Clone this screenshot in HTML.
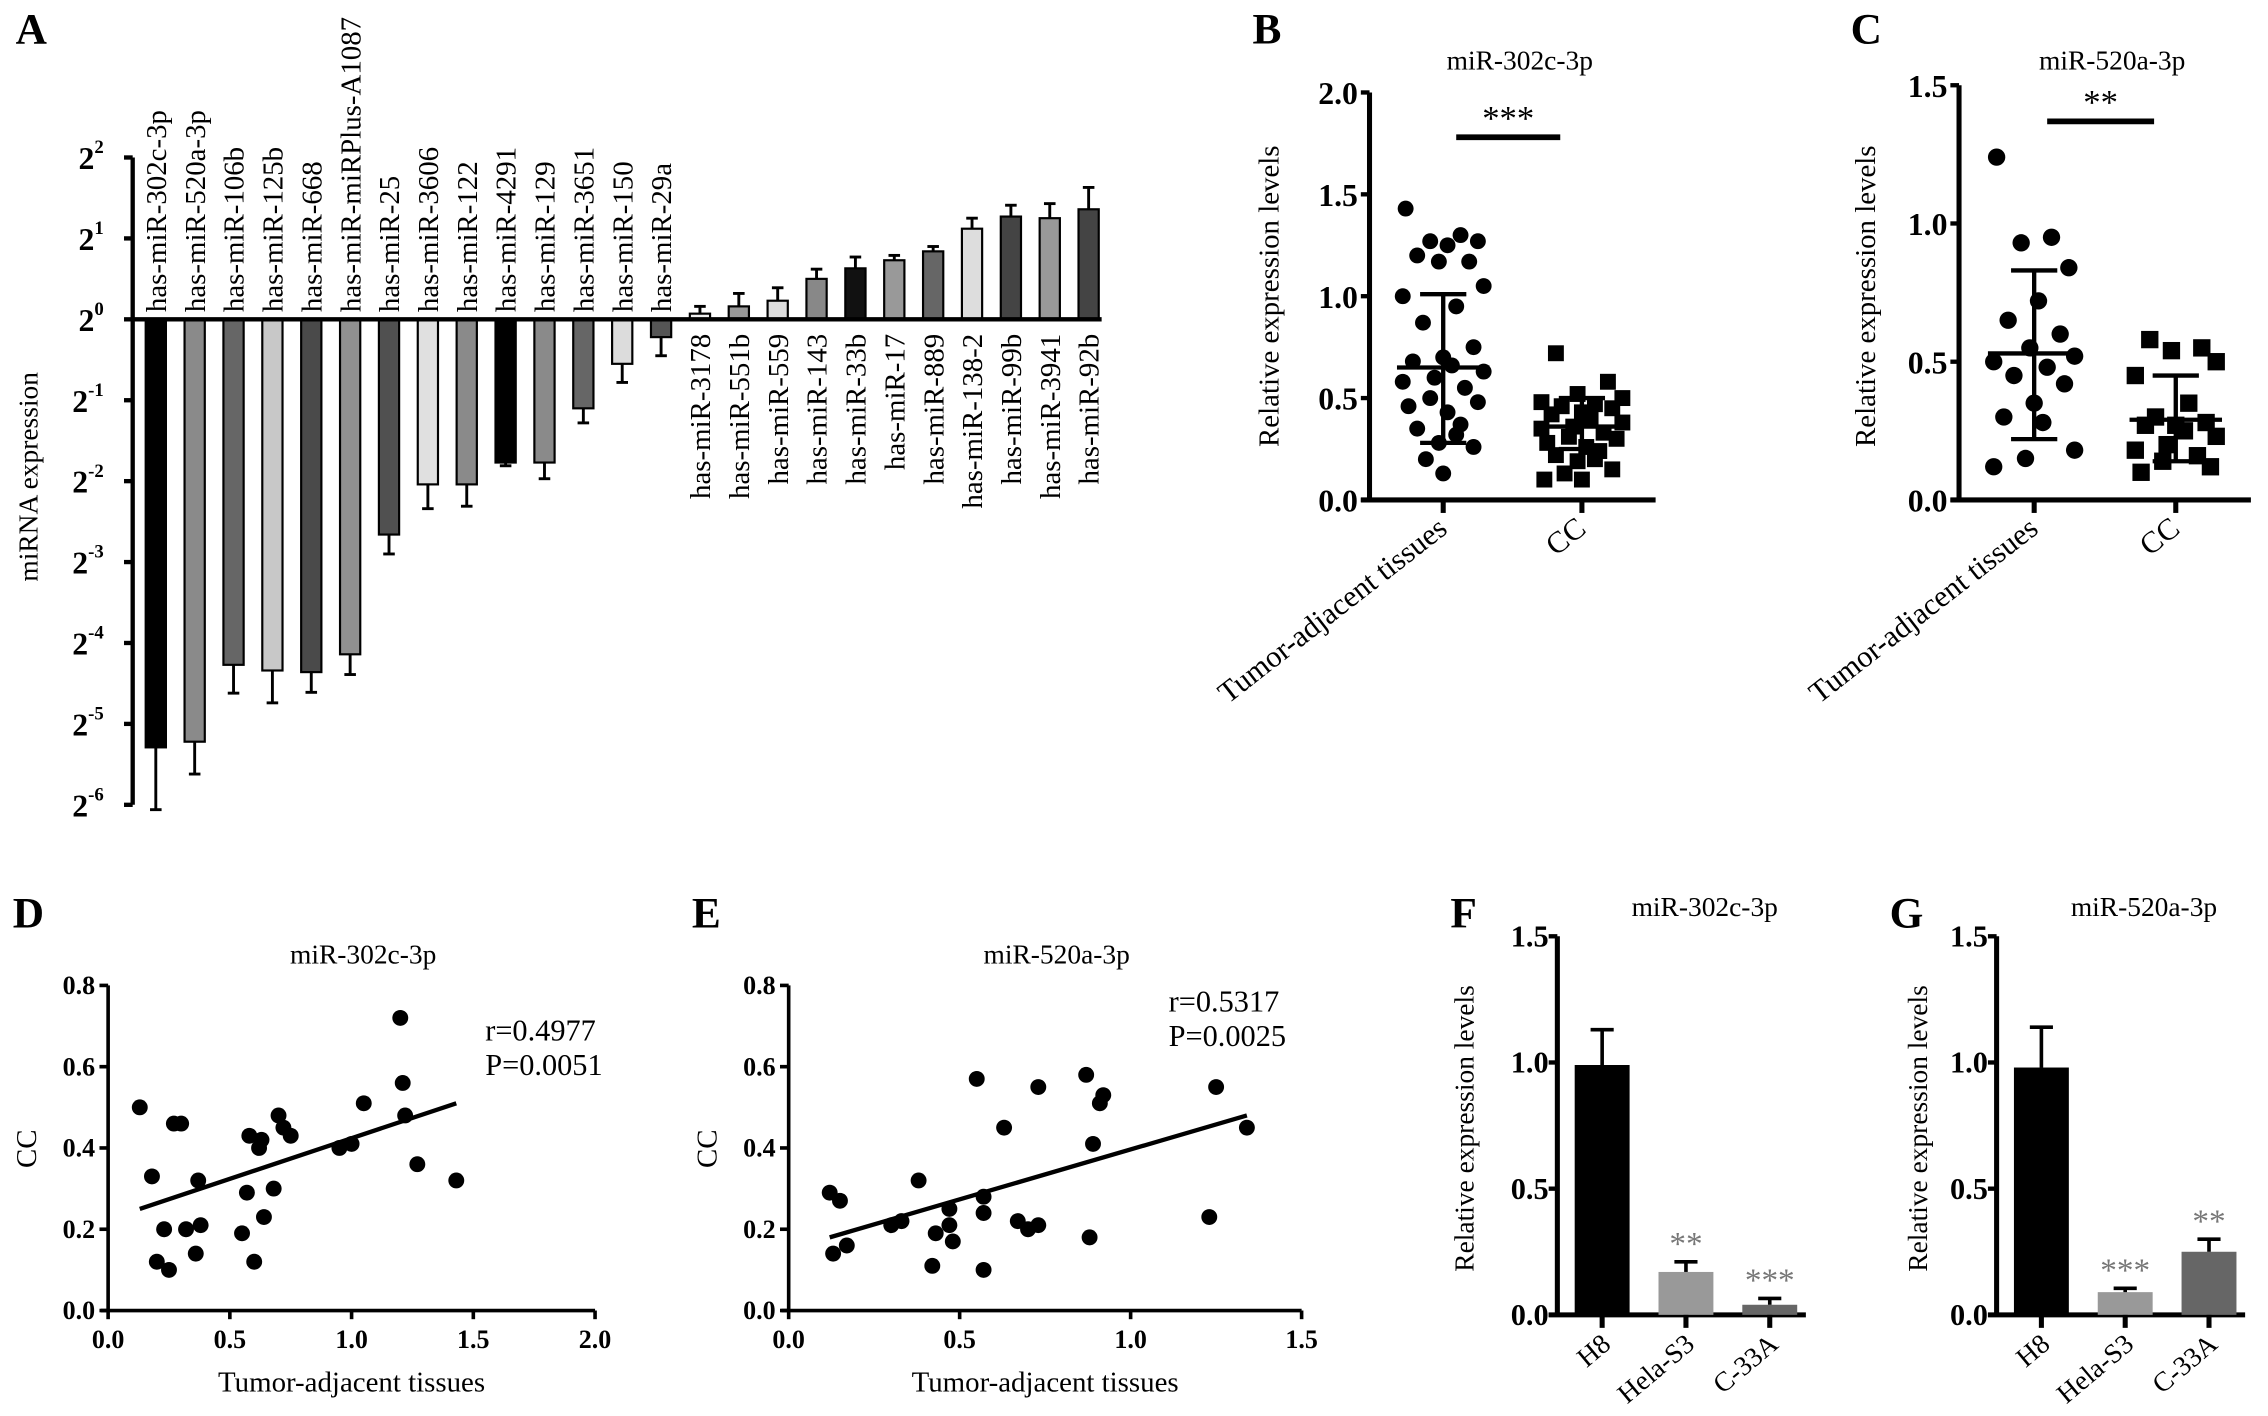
<!DOCTYPE html>
<html><head><meta charset="utf-8"><style>
html,body{margin:0;padding:0;background:#fff;}
svg{display:block;font-family:"Liberation Serif",serif;}
</style></head><body>
<svg id="fig" width="2268" height="1416" viewBox="0 0 1568 980" xmlns="http://www.w3.org/2000/svg"></svg>
<script>
// ---------- Panel A data ----------
const aNames=["has-miR-302c-3p","has-miR-520a-3p","has-miR-106b","has-miR-125b","has-miR-668","has-miR-miRPlus-A1087","has-miR-25","has-miR-3606","has-miR-122","has-miR-4291","has-miR-129","has-miR-3651","has-miR-150","has-miR-29a","has-miR-3178","has-miR-551b","has-miR-559","has-miR-143","has-miR-33b","has-miR-17","has-miR-889","has-miR-138-2","has-miR-99b","has-miR-3941","has-miR-92b"];
const aLog2=[-5.29,-5.22,-4.27,-4.34,-4.36,-4.14,-2.66,-2.04,-2.04,-1.77,-1.77,-1.1,-0.55,-0.22,0.07,0.16,0.23,0.5,0.63,0.73,0.84,1.12,1.27,1.25,1.36];
const aErr=[0.77,0.4,0.35,0.4,0.25,0.25,0.24,0.3,0.27,0.04,0.2,0.18,0.23,0.23,0.09,0.16,0.16,0.12,0.14,0.06,0.06,0.13,0.14,0.18,0.27];
const aTicks=[2,1,0,-1,-2,-3,-4,-5,-6];
// ---------- Panel B/C data ----------
const bTumor=[1.43,1.3,1.27,1.27,1.25,1.2,1.17,1.17,1.05,1.0,0.95,0.87,0.75,0.7,0.68,0.66,0.63,0.6,0.58,0.55,0.5,0.48,0.46,0.43,0.37,0.35,0.32,0.28,0.26,0.2,0.13];
const bCC=[0.72,0.58,0.52,0.5,0.48,0.47,0.46,0.45,0.43,0.42,0.4,0.38,0.36,0.35,0.33,0.31,0.3,0.28,0.26,0.24,0.22,0.2,0.19,0.15,0.13,0.1,0.1];
const bStats=[0.65,0.28,1.01,0.36,0.25,0.5];
const cTumor=[1.24,0.95,0.93,0.84,0.72,0.65,0.6,0.55,0.52,0.5,0.48,0.45,0.42,0.35,0.3,0.28,0.18,0.15,0.12];
const cCC=[0.58,0.55,0.54,0.5,0.45,0.35,0.3,0.28,0.27,0.27,0.25,0.23,0.2,0.18,0.16,0.14,0.12,0.1];
const cStats=[0.53,0.22,0.83,0.29,0.14,0.45];
// ---------- Panel D/E data ----------
const dX=[0.13,0.18,0.2,0.23,0.25,0.27,0.3,0.32,0.36,0.37,0.38,0.55,0.57,0.58,0.6,0.62,0.63,0.64,0.68,0.7,0.72,0.75,0.95,1.0,1.05,1.2,1.21,1.22,1.27,1.43];
const dY=[0.5,0.33,0.12,0.2,0.1,0.46,0.46,0.2,0.14,0.32,0.21,0.19,0.29,0.43,0.12,0.4,0.42,0.23,0.3,0.48,0.45,0.43,0.4,0.41,0.51,0.72,0.56,0.48,0.36,0.32];
const dFit=[0.13,0.25,1.43,0.51];
const eX=[0.12,0.13,0.15,0.17,0.3,0.33,0.38,0.42,0.43,0.47,0.47,0.48,0.55,0.57,0.57,0.57,0.63,0.67,0.7,0.73,0.73,0.87,0.88,0.89,0.91,0.92,1.23,1.25,1.34];
const eY=[0.29,0.14,0.27,0.16,0.21,0.22,0.32,0.11,0.19,0.25,0.21,0.17,0.57,0.28,0.24,0.1,0.45,0.22,0.2,0.55,0.21,0.58,0.18,0.41,0.51,0.53,0.23,0.55,0.45];
const eFit=[0.12,0.18,1.34,0.48];
// ---------- Panel F/G data ----------
const cellLines=["H8","Hela-S3","C-33A"];
const fVals=[0.99,0.17,0.04];
const fErr=[0.14,0.04,0.025];
const fStars=["","**","***"];
const gVals=[0.98,0.09,0.25];
const gErr=[0.16,0.015,0.05];
const gStars=["","***","**"];
const barTicks=[0,0.5,1.0,1.5];

const NS="http://www.w3.org/2000/svg";
const svg=document.getElementById('fig');
function el(tag,attrs,parent,text){const e=document.createElementNS(NS,tag);for(const k in attrs)e.setAttribute(k,attrs[k]);if(text!==undefined)e.textContent=text;(parent||svg).appendChild(e);return e;}
function grp(name){const g=el('g',{});


return g;}
function line(p,x1,y1,x2,y2,w){return el('line',{x1,y1,x2,y2,stroke:'#000','stroke-width':w||2},p);}
function txt(p,x,y,s,size,opts){const o=Object.assign({x,y,'font-size':size,fill:'#000'},opts||{});return el('text',o,p,s);}

// panel letters
[["A",10,30],["B",866,30],["C",1280,30],["D",8,642],["E",478,642],["F",1003,642],["G",1307,642]].forEach(l=>{
 const t=txt(svg,l[1],l[2],l[0],30,{'font-weight':'bold'});
 
 
});

// ===== Panel A =====
(function(){
 const g=grp('panel-a-bar-chart');
 const y0=221, unit=56, axX=91, x0=107, step=26.9, bw=14;
 const ay=v=>y0-v*unit;
 const colors=["#000","#8a8a8a","#666","#c8c8c8","#4a4a4a","#909090","#505050","#e0e0e0","#8a8a8a","#000","#8a8a8a","#666","#dcdcdc","#555","#eee","#999","#ddd","#888","#111","#999","#666","#ddd","#444","#999","#444"];
 line(g,axX,ay(2),axX,ay(-6),3);
 aTicks.forEach(t=>{line(g,axX-6,ay(t),axX,ay(t),3);
  const tt=txt(g,axX-20,ay(t)+8,'',22,{'text-anchor':'end','font-weight':'bold'});
  el('tspan',{},tt,'2');el('tspan',{'font-size':13,dy:-11},tt,String(t));
  
  
 });
 const yl=txt(g,0,0,'miRNA expression',19,{'text-anchor':'middle',transform:'translate(25,330) rotate(-90)'});
 
 
 aLog2.forEach((v,i)=>{
  const cx=x0+i*step;
  const top=Math.min(ay(v),y0), h=Math.abs(ay(v)-y0);
  const r=el('rect',{x:cx-bw/2,y:top,width:bw,height:h,fill:colors[i],stroke:'#000','stroke-width':1.5},g);
  
  
  const ey=v<0?ay(v-aErr[i]):ay(v+aErr[i]);
  line(g,cx,ay(v),cx,ey,2);line(g,cx-4,ey,cx+4,ey,2);
  let lab;
  if(v<0) lab=txt(g,0,0,aNames[i],20,{transform:`translate(${cx+7},${y0-5}) rotate(-90)`});
  else lab=txt(g,0,0,aNames[i],20,{'text-anchor':'end',transform:`translate(${cx+7},${y0+10}) rotate(-90)`});
  
  
 });
 line(g,axX,y0,x0+24*step+bw/2+2,y0,3);
})();

// ===== Panels B, C =====
function dotPanel(name,axX,catX,ymax,tickStep,yTop,title,tumor,cc,stats,stars,sigX1,sigX2,sigY,xEnd,labX,r){
 const g=grp(name);
 const yB=346, s=(yB-yTop)/ymax, yy=v=>yB-v*s;
 line(g,axX,yTop,axX,yB,3.5);line(g,axX-6,yB,xEnd,yB,3.5);
 for(let t=0;t<=ymax+1e-9;t+=tickStep){line(g,axX-6,yy(t),axX,yy(t),3);
  const tl=txt(g,axX-8,yy(t)+8,t.toFixed(1),22,{'text-anchor':'end','font-weight':'bold'});
  
  }
 catX.forEach(x=>line(g,x,yB,x,yB+9,3.5));
 const tt=txt(g,(axX+xEnd)/2+5,48,title,19,{'text-anchor':'middle'});
 
 
 const yl=txt(g,0,0,'Relative expression levels',20,{'text-anchor':'middle',transform:`translate(${labX},205) rotate(-90)`});
 
 
 const l1=txt(g,0,0,'Tumor-adjacent tissues',21,{'text-anchor':'end',transform:`translate(${catX[0]+4},${yB+22}) rotate(-38)`});
 
 
 const l2=txt(g,0,0,'CC',21,{'text-anchor':'end',transform:`translate(${catX[1]+4},${yB+22}) rotate(-38)`});
 
 
 const jit=[-26,12,-9,24,3,-18,18,-3,28,-28,9,-14,21,0,-21,6,28,-6,-28,15,-9,24,-24,3,12,-18,9,-3,21,-12,0];
 tumor.forEach((v,i)=>{const c=el('circle',{cx:catX[0]+jit[i%jit.length],cy:yy(v),r:r,fill:'#000'},g);
  
  });
 cc.forEach((v,i)=>{const q=el('rect',{x:catX[1]+jit[(i+5)%jit.length]-r,y:yy(v)-r,width:2*r,height:2*r,fill:'#000'},g);
  
  });
 [[catX[0],stats[0],stats[1],stats[2]],[catX[1],stats[3],stats[4],stats[5]]].forEach(a=>{
  line(g,a[0]-32,yy(a[1]),a[0]+32,yy(a[1]),3);
  line(g,a[0],yy(a[2]),a[0],yy(a[3]),3);
  line(g,a[0]-16,yy(a[2]),a[0]+16,yy(a[2]),3);
  line(g,a[0]-16,yy(a[3]),a[0]+16,yy(a[3]),3);
 });
 line(g,sigX1,sigY,sigX2,sigY,4);
 const st=txt(g,(sigX1+sigX2)/2,sigY-5,stars,24,{'text-anchor':'middle'});
 
 
}
dotPanel('panel-b-dot-plot',947,[998,1094],2.0,0.5,64,'miR-302c-3p',bTumor,bCC,bStats,'***',1007,1079,95,1145,884,5.5);
dotPanel('panel-c-dot-plot',1355,[1407,1505],1.5,0.5,59,'miR-520a-3p',cTumor,cCC,cStats,'**',1416,1490,84,1557,1297,6);

// ===== Panels D, E =====
function scatter(name,x0,x1,xmax,xstep,title,xs,ys,fit,r,p,rx,ry){
 const g=grp(name);
 const yB=907,yT=682,sy=(yB-yT)/0.8,sx=(x1-x0)/xmax;
 const X=v=>x0+v*sx,Y=v=>yB-v*sy;
 line(g,x0,yT,x0,yB,2.5);line(g,x0-5,yB,x1,yB,2.5);
 [0,0.2,0.4,0.6,0.8].forEach(t=>{line(g,x0-6,Y(t),x0,Y(t),2.5);
  const tl=txt(g,x0-9,Y(t)+6,t.toFixed(1),18,{'text-anchor':'end','font-weight':'bold'});
  
  });
 for(let t=0;t<=xmax+1e-9;t+=xstep){line(g,X(t),yB,X(t),yB+6,2.5);
  const tl=txt(g,X(t),yB+26,t.toFixed(1),18,{'text-anchor':'middle','font-weight':'bold'});
  
  }
 const tt=txt(g,(x0+x1)/2+8,667,title,19,{'text-anchor':'middle'});
 
 
 const xl=txt(g,(x0+x1)/2,963,'Tumor-adjacent tissues',20,{'text-anchor':'middle'});
 
 
 const yl=txt(g,0,0,'CC',20,{'text-anchor':'middle',transform:`translate(${x0-50},795) rotate(-90)`});
 
 
 xs.forEach((v,i)=>{const c=el('circle',{cx:X(v),cy:Y(ys[i]),r:5.5,fill:'#000'},g);
  
  });
 const fl=line(g,X(fit[0]),Y(fit[1]),X(fit[2]),Y(fit[3]),3);
 
 
 const t1=txt(g,rx,ry,r,21);
 const t2=txt(g,rx,ry+24,p,21);
}
scatter('panel-d-scatter',74,411,2.0,0.5,'miR-302c-3p',dX,dY,dFit,'r=0.4977','P=0.0051',335,720);
scatter('panel-e-scatter',545,900,1.5,0.5,'miR-520a-3p',eX,eY,eFit,'r=0.5317','P=0.0025',808,700);

// ===== Panels F, G =====
function barPanel(name,axX,labX,title,vals,errs,stars){
 const g=grp(name);
 const yB=910,yT=648,s=(yB-yT)/1.5,Y=v=>yB-v*s;
 const cx=[axX+31,axX+89,axX+147],bw=38,cols=['#000','#999','#666'];
 line(g,axX,yT,axX,yB,3.5);line(g,axX-6,yB,axX+172,yB,3.5);
 barTicks.forEach(t=>{line(g,axX-6,Y(t),axX,Y(t),3);
  const tl=txt(g,axX-6,Y(t)+7,t.toFixed(1),21,{'text-anchor':'end','font-weight':'bold'});
  
  });
 const tt=txt(g,axX+102,634,title,19,{'text-anchor':'middle'});
 
 
 const yl=txt(g,0,0,'Relative expression levels',19,{'text-anchor':'middle',transform:`translate(${labX},781) rotate(-90)`});
 
 
 vals.forEach((v,i)=>{
  const r=el('rect',{x:cx[i]-bw/2,y:Y(v),width:bw,height:yB-Y(v),fill:cols[i]},g);
  
  
  line(g,cx[i],Y(v),cx[i],Y(v+errs[i]),2.5);line(g,cx[i]-8,Y(v+errs[i]),cx[i]+8,Y(v+errs[i]),2.5);
  line(g,cx[i],yB,cx[i],yB+9,3.5);
  if(stars[i]){const st=txt(g,cx[i],Y(v+errs[i])-5,stars[i],23,{'text-anchor':'middle',fill:'#777'});
   
   }
  const lb=txt(g,0,0,cellLines[i],19,{'text-anchor':'end',transform:`translate(${cx[i]+7},${yB+22}) rotate(-40)`});
  
  
 });
}
barPanel('panel-f-bar-chart',1077,1019,'miR-302c-3p',fVals,fErr,fStars);
barPanel('panel-g-bar-chart',1381,1333,'miR-520a-3p',gVals,gErr,gStars);
</script>
</body></html>
